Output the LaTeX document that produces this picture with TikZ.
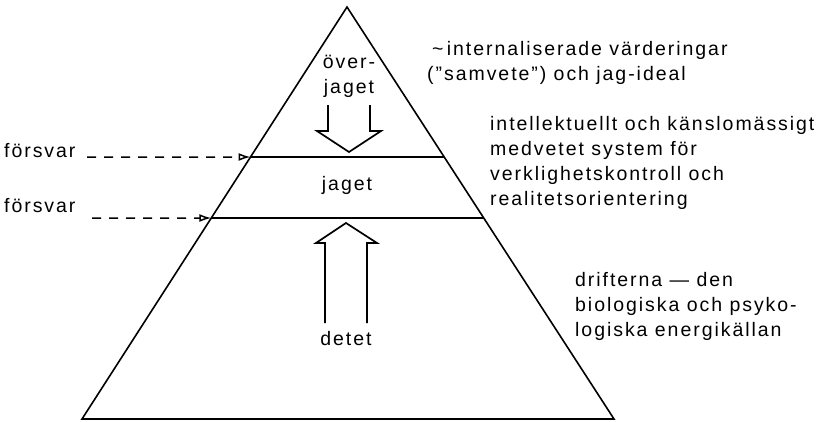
\documentclass[tikz,border=0pt]{standalone}
\usepackage{fontspec}
\setmainfont{Liberation Sans}[LetterSpace=10]
\usepackage{tikz}
\usetikzlibrary{arrows.meta,positioning,calc}

\begin{document}
\begin{tikzpicture}[x=1pt, y=-1pt, >=Stealth,
    txt/.style={font=\fontsize{19.5}{25}\selectfont, inner sep=0pt, align=left},
    pil/.style={line width=1.7pt, line join=miter},
    forsvarpil/.style={line width=1.5pt, dash pattern=on 9pt off 8pt, -{Latex[open, length=12pt, width=8pt]}}]
    \useasboundingbox (0,0) rectangle (826,421);

    % Pyramid
    \coordinate (apex) at (347,7);
    \coordinate (bl) at (82,419);
    \coordinate (br) at (614,419);
    \draw[line width=1.6pt, line join=miter] (bl) -- (apex) -- (br) -- cycle;

    % Layer lines
    \coordinate (upL) at ($(apex)!150/412!(bl)$);
    \coordinate (upR) at ($(apex)!150/412!(br)$);
    \coordinate (loL) at ($(apex)!211/412!(bl)$);
    \coordinate (loR) at ($(apex)!211/412!(br)$);
    \draw[line width=1.4pt] (upL) -- (upR);
    \draw[line width=1.4pt] (loL) -- (loR);

    % Layer names (base = last line)
    \node[txt, align=center, anchor=base] (overjag) at (349,93) {över-\\jaget};
    \node[txt, anchor=base] (jag) at (347,190) {jaget};
    \node[txt, anchor=base] (det) at (346,345) {detet};

    % Hollow arrows
    \draw[pil] (328,105) -- (328,131) -- (317,131) -- (349,152) -- (381,131) -- (370,131) -- (370,105);
    \draw[pil] (325,323) -- (325,243) -- (316,243) -- (346,223) -- (377,243) -- (367,243) -- (367,323);

    % Defence
    \node[txt, anchor=base west] (fors1) at (4,157) {försvar};
    \node[txt, anchor=base west] (fors2) at (4,212) {försvar};
    \coordinate (f1) at (87,157);
    \coordinate (f2) at (92,218);
    \draw[forsvarpil] (f1) -- (upL);
    \draw[forsvarpil] (f2) -- (loL);

    % Right column (base = last line)
    \node[txt, anchor=base west] (superego) at (427,80) {\hspace{5pt}\textasciitilde\,internaliserade värderingar\\(''samvete'') och jag-ideal};
    \node[txt, anchor=base west] (ego) at (490,205) {intellektuellt och känslomässigt\\medvetet system för\\verklighetskontroll och\\realitetsorientering};
    \node[txt, anchor=base west] (id) at (575,336) {drifterna --- den\\biologiska och psyko-\\logiska energikällan};
\end{tikzpicture}
\end{document}
